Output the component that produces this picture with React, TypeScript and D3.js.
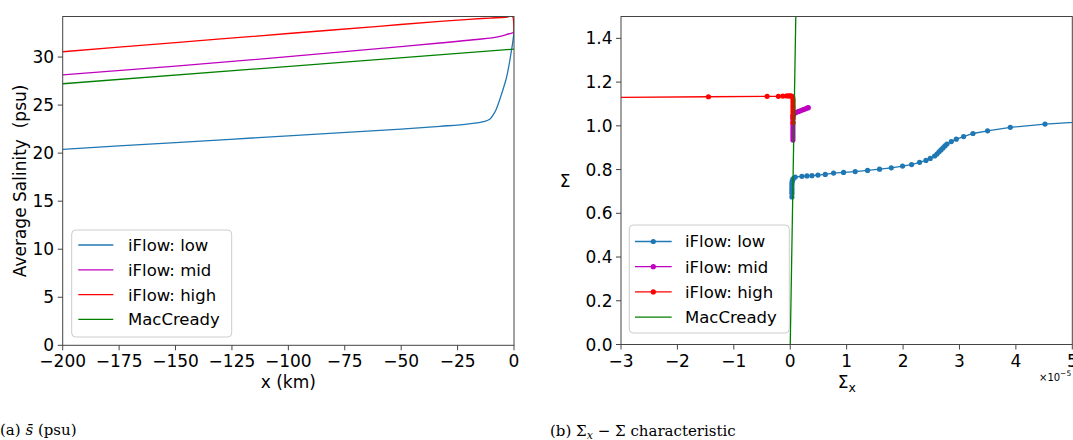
import React from "react";
import * as d3 from "d3";

// ---------- Left panel data: average salinity (psu) vs x (km) ----------
const lowX = [-200, -150, -100, -50, -32.8, -20, -13.6, -10.6, -9.2, -8, -7.1, -6, -4.9, -4, -3.2, -2.5, -1.8, -1.2, -0.6, -0.2, 0];
const lowS = [20.4, 21.1, 21.8, 22.5, 22.79, 23.05, 23.27, 23.55, 24.0, 24.5, 25.04, 25.8, 26.6, 27.3, 27.98, 28.8, 29.72, 30.6, 31.45, 32.2, 32.8];
const midX = [-200, -150, -100, -50, -32.8, -18, -6.2, -1, 0];
const midS = [28.15, 29.06, 30.04, 31.09, 31.46, 31.8, 32.14, 32.5, 32.55];
const highX = [-200, -150, -100, -60, -32.8, -20, -10.6, -3, -1, -0.3, 0];
const highS = [30.55, 31.5, 32.45, 33.2, 33.72, 33.93, 34.06, 34.17, 34.3, 34.0, 32.55];
const macX = [-200, 0];
const macS = [27.22, 30.83];

// ---------- Right panel data: Sigma vs Sigma_x (x 1e-5) ----------
const sigLowX = [0.03, 0.03, 0.03, 0.03, 0.03, 0.03, 0.032, 0.036, 0.045, 0.06, 0.089, 0.207, 0.296, 0.385, 0.491, 0.621, 0.768, 0.945, 1.152, 1.371, 1.583, 1.791, 1.991, 2.151, 2.293, 2.406, 2.482, 2.559, 2.601, 2.637, 2.672, 2.707, 2.743, 2.778, 2.855, 2.943, 3.073, 3.239, 3.498, 3.901, 4.516, 5.6];
const sigLowS = [0.675, 0.69, 0.70, 0.71, 0.72, 0.73, 0.74, 0.748, 0.755, 0.76, 0.766, 0.769, 0.771, 0.772, 0.775, 0.778, 0.784, 0.787, 0.791, 0.796, 0.802, 0.808, 0.816, 0.823, 0.833, 0.842, 0.851, 0.862, 0.871, 0.881, 0.890, 0.899, 0.908, 0.917, 0.928, 0.939, 0.951, 0.965, 0.977, 0.993, 1.008, 1.026];
const sigMidX = [0.048, 0.048, 0.048, 0.048, 0.048, 0.048, 0.048, 0.048, 0.048, 0.048, 0.05, 0.06, 0.08, 0.11, 0.15, 0.19, 0.23, 0.27, 0.3, 0.32];
const sigMidS = [0.935, 0.947, 0.959, 0.971, 0.983, 0.995, 1.007, 1.019, 1.031, 1.041, 1.048, 1.054, 1.058, 1.062, 1.066, 1.07, 1.074, 1.078, 1.081, 1.083];
const sigHighX = [-5.0, -1.45, -0.41, -0.21, -0.13, -0.06, -0.02, 0.01, 0.03, 0.045, 0.05, 0.05, 0.05, 0.05, 0.05, 0.05, 0.05, 0.05, 0.05, 0.05];
const sigHighS = [1.127, 1.133, 1.135, 1.135, 1.136, 1.137, 1.137, 1.137, 1.135, 1.13, 1.12, 1.11, 1.1, 1.09, 1.08, 1.07, 1.06, 1.05, 1.035, 1.015];
const sigMacX = [0, 0.105];
const sigMacS = [0, 1.6];

// ---------- Ticks & labels ----------
const leftXTicks = [-200, -175, -150, -125, -100, -75, -50, -25, 0];
const leftYTicks = [0, 5, 10, 15, 20, 25, 30];
const rightXTicks = [-3, -2, -1, 0, 1, 2, 3, 4, 5];
const rightYTicks = [0, 0.2, 0.4, 0.6, 0.8, 1.0, 1.2, 1.4];
const seriesNames = ["iFlow: low", "iFlow: mid", "iFlow: high", "MacCready"];
const seriesColors = ["#1f77b4", "#bf00bf", "#ff0000", "#008000"];

const FONT = "DejaVu Sans, sans-serif";
const SERIF = "DejaVu Serif, serif";
const AX = "#444";

const fmtInt = (v: number) => (v < 0 ? "\u2212" + Math.abs(v) : String(v));
const fmt1 = (v: number) => (v < 0 ? "\u2212" : "") + Math.abs(v).toFixed(1);

function zip(xs: number[], ys: number[]) {
  return xs.map((x, i) => [x, ys[i]] as [number, number]);
}

export default function App() {
  const W = 1073, H = 440;
  const top = 16.5;
  const xL = d3.scaleLinear().domain([-200, 0]).range([62.7, 514]);
  const yL = d3.scaleLinear().domain([0, 34.22]).range([345.3, top]);
  const xR = d3.scaleLinear().domain([-3, 5]).range([621, 1072.3]);
  const yR = d3.scaleLinear().domain([0, 1.5]).range([344.5, top]);

  const lineL = d3.line<[number, number]>().x(d => xL(d[0])).y(d => yL(d[1])).curve(d3.curveMonotoneX);
  const lineR = d3.line<[number, number]>().x(d => xR(d[0])).y(d => yR(d[1]));

  const leftSeries = [zip(lowX, lowS), zip(midX, midS), zip(highX, highS), zip(macX, macS)];
  const rightSeries = [zip(sigLowX, sigLowS), zip(sigMidX, sigMidS), zip(sigHighX, sigHighS)];
  const rightMac = zip(sigMacX, sigMacS);

  const tickLen = 5;
  const tickFs = 17;
  const legFs = 16.5;

  const [lx0, lx1] = xL.range();
  const [ly0, ly1] = yL.range();
  const [rx0, rx1] = xR.range();
  const [ry0, ry1] = yR.range();

  return (
    <svg width={W} height={H} style={{ position: "absolute", left: 0, top: 0, background: "#fff" }} fontFamily={FONT}>
      <defs>
        <clipPath id="clipL"><rect x={lx0} y={ly1} width={lx1 - lx0} height={ly0 - ly1} /></clipPath>
        <clipPath id="clipR"><rect x={rx0} y={ry1} width={rx1 - rx0} height={ry0 - ry1} /></clipPath>
      </defs>

      {/* ===== Left panel ===== */}
      <g clipPath="url(#clipL)">
        {leftSeries.map((s, i) => (
          <path key={i} d={lineL(s) || ""} fill="none" stroke={seriesColors[i]} strokeWidth={1.3} />
        ))}
      </g>
      <rect x={lx0} y={ly1} width={lx1 - lx0} height={ly0 - ly1} fill="none" stroke={AX} strokeWidth={1} />
      {leftXTicks.map(t => (
        <g key={t}>
          <line x1={xL(t)} x2={xL(t)} y1={ly0} y2={ly0 + tickLen} stroke={AX} />
          <text x={xL(t)} y={ly0 + 22} textAnchor="middle" fontSize={tickFs} fill="#000">{fmtInt(t)}</text>
        </g>
      ))}
      {leftYTicks.map(t => (
        <g key={t}>
          <line x1={lx0 - tickLen} x2={lx0} y1={yL(t)} y2={yL(t)} stroke={AX} />
          <text x={lx0 - tickLen - 3.5} y={yL(t)} dy="0.36em" textAnchor="end" fontSize={tickFs} fill="#000">{fmtInt(t)}</text>
        </g>
      ))}
      <text x={(lx0 + lx1) / 2} y={388} textAnchor="middle" fontSize={17}>x (km)</text>
      <text transform={`translate(26,${(ly0 + ly1) / 2}) rotate(-90)`} textAnchor="middle" fontSize={17} style={{ whiteSpace: "pre" }}>{"Average Salinity  (psu)"}</text>

      {/* left legend */}
      <g>
        <rect x={71.7} y={230} width={160} height={107} rx={4} fill="#fff" fillOpacity={0.8} stroke="#cccccc" strokeWidth={1} />
        {seriesNames.map((n, i) => {
          const yy = 245 + i * 24.8;
          return (
            <g key={n}>
              <line x1={78.3} x2={113.3} y1={yy} y2={yy} stroke={seriesColors[i]} strokeWidth={1.3} />
              <text x={128} y={yy} dy="0.36em" fontSize={legFs}>{n}</text>
            </g>
          );
        })}
      </g>

      {/* ===== Right panel ===== */}
      <g clipPath="url(#clipR)">
        {rightSeries.map((s, i) => (
          <g key={i}>
            <path d={lineR(s) || ""} fill="none" stroke={seriesColors[i]} strokeWidth={1.3} />
            {s.map((p, j) => (
              <circle key={j} cx={xR(p[0])} cy={yR(p[1])} r={2.6} fill={seriesColors[i]} />
            ))}
          </g>
        ))}
        <path d={lineR(rightMac) || ""} fill="none" stroke={seriesColors[3]} strokeWidth={1.3} />
      </g>
      <rect x={rx0} y={ry1} width={rx1 - rx0} height={ry0 - ry1} fill="none" stroke={AX} strokeWidth={1} />
      {rightXTicks.map(t => (
        <g key={t}>
          <line x1={xR(t)} x2={xR(t)} y1={ry0} y2={ry0 + tickLen} stroke={AX} />
          <text x={xR(t)} y={ry0 + 22} textAnchor="middle" fontSize={tickFs} fill="#000">{fmtInt(t)}</text>
        </g>
      ))}
      {rightYTicks.map(t => (
        <g key={t}>
          <line x1={rx0 - tickLen} x2={rx0} y1={yR(t)} y2={yR(t)} stroke={AX} />
          <text x={rx0 - tickLen - 3.5} y={yR(t)} dy="0.36em" textAnchor="end" fontSize={tickFs} fill="#000">{fmt1(t)}</text>
        </g>
      ))}
      <text x={1039} y={381} fontSize={10}>×10<tspan dy={-5} fontSize={7.5}>−5</tspan></text>
      <text x={(rx0 + rx1) / 2 - 9} y={388} fontSize={17}>Σ<tspan dy={4} fontSize={12.5}>x</tspan></text>
      <text x={565} y={(ry0 + ry1) / 2} dy="0.36em" textAnchor="middle" fontSize={17}>Σ</text>

      {/* right legend */}
      <g>
        <rect x={629.3} y={225} width={160} height={108} rx={4} fill="#fff" fillOpacity={0.8} stroke="#cccccc" strokeWidth={1} />
        {seriesNames.map((n, i) => {
          const yy = 241.5 + i * 25.2;
          return (
            <g key={n}>
              <line x1={635} x2={671.7} y1={yy} y2={yy} stroke={seriesColors[i]} strokeWidth={1.3} />
              {i < 3 && <circle cx={653.3} cy={yy} r={2.6} fill={seriesColors[i]} />}
              <text x={685} y={yy} dy="0.36em" fontSize={legFs}>{n}</text>
            </g>
          );
        })}
      </g>

      {/* captions */}
      <text x={0} y={435} fontFamily={SERIF} fontSize={15}>
        (a) <tspan fontStyle="italic">s̄</tspan> (psu)
      </text>
      <text x={550} y={436} fontFamily={SERIF} fontSize={15}>
        (b) Σ<tspan dy={3} fontSize={11} fontStyle="italic">x</tspan><tspan dy={-3}> − Σ characteristic</tspan>
      </text>
    </svg>
  );
}
